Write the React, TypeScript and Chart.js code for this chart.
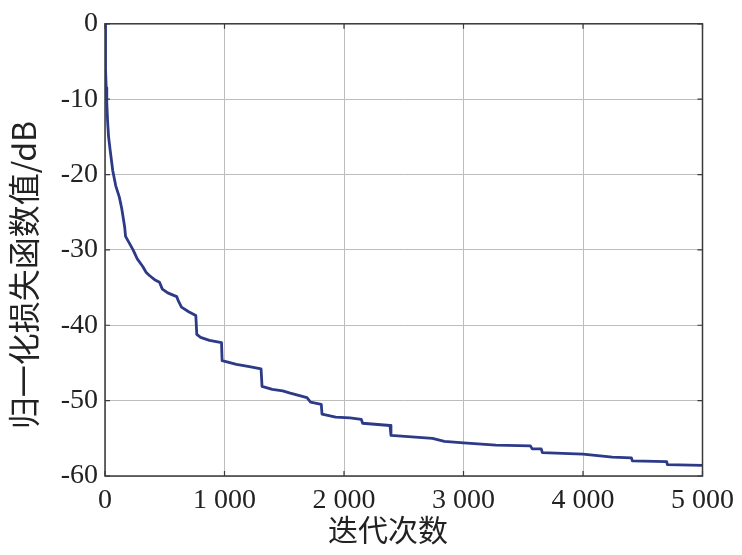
import React, { useEffect, useRef } from "react";
import { Chart, registerables } from "chart.js";

Chart.register(...registerables);

const iterations = [
  0, 3, 6, 10, 15, 22, 30, 45, 65, 90, 120, 140, 150, 165, 172, 200, 235, 270, 316, 345, 372, 420,
  456, 480, 525, 600, 615, 640, 700, 760, 768, 800, 874, 975, 980, 1100, 1208, 1306, 1314, 1400,
  1487, 1550, 1690, 1720, 1810, 1816, 1930, 2050, 2145, 2156, 2385, 2393, 2740, 2840, 3000, 3270,
  3560, 3575, 3650, 3660, 4000, 4245, 4405, 4413, 4700, 4706, 5000,
];
const lossDb = [
  0, -3, -6, -8.5, -10.5, -13, -15, -17, -19.5, -21.5, -23, -24.5, -25.5, -27, -28.2, -29, -30,
  -31.2, -32.2, -33, -33.4, -34, -34.3, -35.2, -35.7, -36.2, -36.8, -37.6, -38.2, -38.7, -41.2,
  -41.6, -42.0, -42.3, -44.7, -45.2, -45.5, -45.8, -48.1, -48.5, -48.7, -49.0, -49.6, -50.2, -50.5,
  -51.8, -52.2, -52.3, -52.5, -53.0, -53.3, -54.6, -55.0, -55.4, -55.6, -55.9, -56.0, -56.4, -56.4,
  -56.9, -57.1, -57.5, -57.6, -58.0, -58.1, -58.5, -58.6,
];
const xTickValues = [0, 1000, 2000, 3000, 4000, 5000];
const xTickLabels = ["0", "1 000", "2 000", "3 000", "4 000", "5 000"];
const yTickValues = [0, -10, -20, -30, -40, -50, -60];
const yTickLabels = ["0", "-10", "-20", "-30", "-40", "-50", "-60"];
const xTitle = "迭代次数";
const yTitle = "归一化损失函数值/dB";

const SERIF = '"Liberation Serif", "Noto Sans CJK SC", serif';
const CJK = '"Noto Sans CJK SC", "Liberation Serif", serif';

const framePlugin = {
  id: "frame",
  afterDraw(chart: any) {
    const { ctx, chartArea } = chart;
    const { left, right, top, bottom } = chartArea;
    const xs = chart.scales.x;
    const ys = chart.scales.y;
    ctx.save();
    ctx.strokeStyle = "#3a3a3a";
    ctx.lineWidth = 1.5;
    ctx.strokeRect(left, top, right - left, bottom - top);
    ctx.lineWidth = 1.2;
    ctx.beginPath();
    xTickValues.forEach((v) => {
      const px = xs.getPixelForValue(v);
      ctx.moveTo(px, bottom);
      ctx.lineTo(px, bottom - 5);
      ctx.moveTo(px, top);
      ctx.lineTo(px, top + 5);
    });
    yTickValues.forEach((v) => {
      const py = ys.getPixelForValue(v);
      ctx.moveTo(left, py);
      ctx.lineTo(left + 5, py);
      ctx.moveTo(right, py);
      ctx.lineTo(right - 5, py);
    });
    ctx.stroke();

    ctx.fillStyle = "#222";
    ctx.textAlign = "center";
    ctx.textBaseline = "middle";
    ctx.font = `30px ${CJK}`;
    ctx.fillText(xTitle, 388, 530);

    ctx.translate(24, 275);
    ctx.rotate(-Math.PI / 2);
    ctx.font = `32px ${CJK}`;
    ctx.fillText(yTitle, 0, 0);
    ctx.restore();
  },
};

export default function App() {
  const canvasRef = useRef<HTMLCanvasElement | null>(null);

  useEffect(() => {
    const canvas = canvasRef.current;
    if (!canvas) return;
    const points = iterations.map((x, i) => ({ x, y: lossDb[i] }));
    const chart = new Chart(canvas, {
      type: "line",
      data: {
        datasets: [
          {
            data: points,
            borderColor: "#2c3a88",
            borderWidth: 2.8,
            borderJoinStyle: "round",
            borderCapStyle: "round",
            pointRadius: 0,
            tension: 0,
            fill: false,
          },
        ],
      },
      options: {
        animation: false,
        responsive: false,
        maintainAspectRatio: false,
        layout: { padding: { top: 17, right: 39, left: 0, bottom: 0 } },
        plugins: { legend: { display: false }, tooltip: { enabled: false } },
        scales: {
          x: {
            type: "linear",
            min: 0,
            max: 5000,
            afterBuildTicks: (scale: any) => {
              scale.ticks = xTickValues.map((v) => ({ value: v }));
            },
            afterFit: (scale: any) => {
              scale.height = 79;
            },
            ticks: {
              autoSkip: false,
              maxRotation: 0,
              padding: 8,
              color: "#222",
              font: { family: SERIF, size: 28 },
              callback: (v: any) => xTickLabels[xTickValues.indexOf(Number(v))] ?? "",
            },
            grid: { color: "#bdbdbd", lineWidth: 1, drawTicks: false },
            border: { display: false },
          },
          y: {
            type: "linear",
            min: -60,
            max: 0,
            afterBuildTicks: (scale: any) => {
              scale.ticks = yTickValues.map((v) => ({ value: v }));
            },
            afterFit: (scale: any) => {
              scale.width = 105;
            },
            ticks: {
              autoSkip: false,
              padding: 7,
              color: "#222",
              font: { family: SERIF, size: 28 },
              callback: (v: any) => yTickLabels[yTickValues.indexOf(Number(v))] ?? "",
            },
            grid: { color: "#bdbdbd", lineWidth: 1, drawTicks: false },
            border: { display: false },
          },
        },
      },
      plugins: [framePlugin],
    });
    return () => chart.destroy();
  }, []);

  return (
    <div style={{ position: "fixed", left: 0, top: 0, width: 742, height: 555, background: "#fff" }}>
      <canvas ref={canvasRef} width={742} height={555} style={{ width: 742, height: 555, display: "block" }} />
    </div>
  );
}
